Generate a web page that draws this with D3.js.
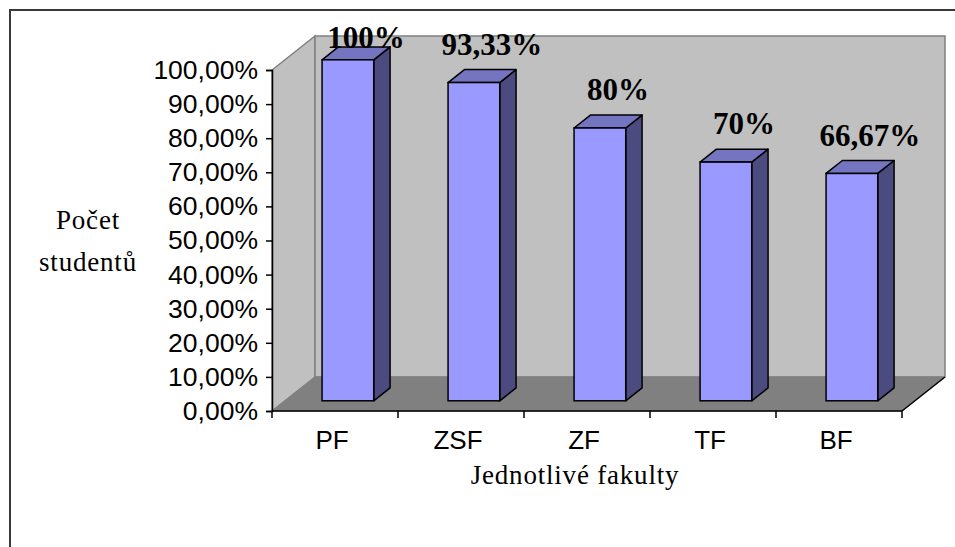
<!DOCTYPE html>
<html><head><meta charset="utf-8">
<script src="https://cdn.jsdelivr.net/npm/d3@7"></script>
<style>body{margin:0;background:#fff}svg{display:block}</style>
</head><body>
<svg id="c" width="955" height="547"></svg>
<script>
const categories = ["PF","ZSF","ZF","TF","BF"];
const values = [1.0, 0.9333, 0.80, 0.70, 0.6667];
const valueLabels = ["100%","93,33%","80%","70%","66,67%"];
const yTicks = [0,0.1,0.2,0.3,0.4,0.5,0.6,0.7,0.8,0.9,1.0];
const yTitle = ["Počet","studentů"];
const xTitle = "Jednotlivé fakulty";

const svg = d3.select("#c");
const X0 = 272, X1 = 902, Y0 = 411, Y1 = 70;
const DX = 43, DY = -34;          // full depth of floor
const f0 = 0.30, fd = 0.38;       // bar front offset & bar depth (fraction of full depth)

const x = d3.scaleBand().domain(categories).range([X0, X1]).paddingInner(0).paddingOuter(0);
const y = d3.scaleLinear().domain([0, 1]).range([Y0, Y1]);

const pts = a => a.map(p => p.join(",")).join(" ");

// outer border
svg.append("rect").attr("x",10).attr("y",10).attr("width",952).attr("height",560)
  .attr("fill","#fff").attr("stroke","#3a3a3a").attr("stroke-width",2);

// walls
svg.append("polygon").attr("points", pts([[X0,y(0)],[X0,y(1)],[X0+DX,y(1)+DY],[X0+DX,y(0)+DY]]))
  .attr("fill","#c0c0c0").attr("stroke","#808080").attr("stroke-width",1.5);
svg.append("polygon").attr("points", pts([[X0+DX,y(0)+DY],[X0+DX,y(1)+DY],[X1+DX,y(1)+DY],[X1+DX,y(0)+DY]]))
  .attr("fill","#c0c0c0").attr("stroke","#808080").attr("stroke-width",1.5);
// floor
svg.append("polygon").attr("points", pts([[X0,y(0)],[X1,y(0)],[X1+DX,y(0)+DY],[X0+DX,y(0)+DY]]))
  .attr("fill","#808080").attr("stroke","#808080").attr("stroke-width",1);

// bars
const bw = x.bandwidth()*0.41;
const ox = DX*f0, oy = DY*f0, bdx = DX*fd, bdy = DY*fd;
const g = svg.append("g");
categories.forEach((c,i)=>{
  const cx = x(c) + x.bandwidth()/2 + ox - 11;
  const xl = cx - bw/2 + 11, xr = xl + bw;
  const yb = y(0) + oy, yt = y(values[i]) + oy;
  // side
  g.append("polygon").attr("points", pts([[xr,yb],[xr,yt],[xr+bdx,yt+bdy],[xr+bdx,yb+bdy]]))
    .attr("fill","#4b4b80").attr("stroke","#000").attr("stroke-width",1.5).attr("stroke-linejoin","round");
  // top
  g.append("polygon").attr("points", pts([[xl,yt],[xr,yt],[xr+bdx,yt+bdy],[xl+bdx,yt+bdy]]))
    .attr("fill","#7474c0").attr("stroke","#000").attr("stroke-width",1.5).attr("stroke-linejoin","round");
  // front
  g.append("rect").attr("x",xl).attr("y",yt).attr("width",bw).attr("height",yb-yt)
    .attr("fill","#9999ff").attr("stroke","#000").attr("stroke-width",1.5);
  // label
  const base = Math.max(yt + bdy - 15, 48);
  g.append("text").attr("x", xl + bw/2 + 18).attr("y", base).attr("text-anchor","middle")
    .attr("font-family","Liberation Serif").attr("font-weight","bold").attr("font-size",31)
    .attr("fill","#000").text(valueLabels[i]);
});

// y axis
const fmt = v => d3.format(".2f")(v*100).replace(".",",") + "%";
const ya = svg.append("g").attr("transform",`translate(${X0},0)`)
  .call(d3.axisLeft(y).tickValues(yTicks).tickFormat(fmt).tickSize(6).tickPadding(8));
ya.select(".domain").attr("stroke","#000").attr("stroke-width",1.5);
ya.selectAll(".tick line").attr("stroke","#000").attr("stroke-width",1.5);
ya.selectAll("text").attr("font-family","Liberation Sans").attr("font-size",26.5).attr("fill","#000");

// x axis
const xa = svg.append("g").attr("transform",`translate(0,${Y0})`)
  .call(d3.axisBottom(x).tickSize(0).tickPadding(20));
xa.select(".domain").remove();
xa.selectAll("text").attr("font-family","Liberation Sans").attr("font-size",26).attr("fill","#000").attr("dx",-3);
svg.append("line").attr("x1",X0).attr("x2",X1).attr("y1",Y0).attr("y2",Y0).attr("stroke","#000").attr("stroke-width",1.5);
svg.append("line").attr("x1",X1).attr("x2",X1+DX).attr("y1",Y0).attr("y2",Y0+DY).attr("stroke","#000").attr("stroke-width",1.5);
svg.append("g").selectAll("line").data(categories.map(c=>x(c)).concat([X1])).join("line")
  .attr("x1",d=>d).attr("x2",d=>d).attr("y1",Y0).attr("y2",Y0+7).attr("stroke","#000").attr("stroke-width",1.5);

// titles
const tf = (s)=>s.attr("font-family","Liberation Serif").attr("font-size",27).attr("letter-spacing",0.8).attr("fill","#000");
svg.append("text").attr("x",88).attr("y",229).attr("text-anchor","middle").call(tf).text(yTitle[0]);
svg.append("text").attr("x",88).attr("y",271).attr("text-anchor","middle").call(tf).text(yTitle[1]);
svg.append("text").attr("x",575).attr("y",484).attr("text-anchor","middle").call(tf).text(xTitle);
</script>
</body></html>
